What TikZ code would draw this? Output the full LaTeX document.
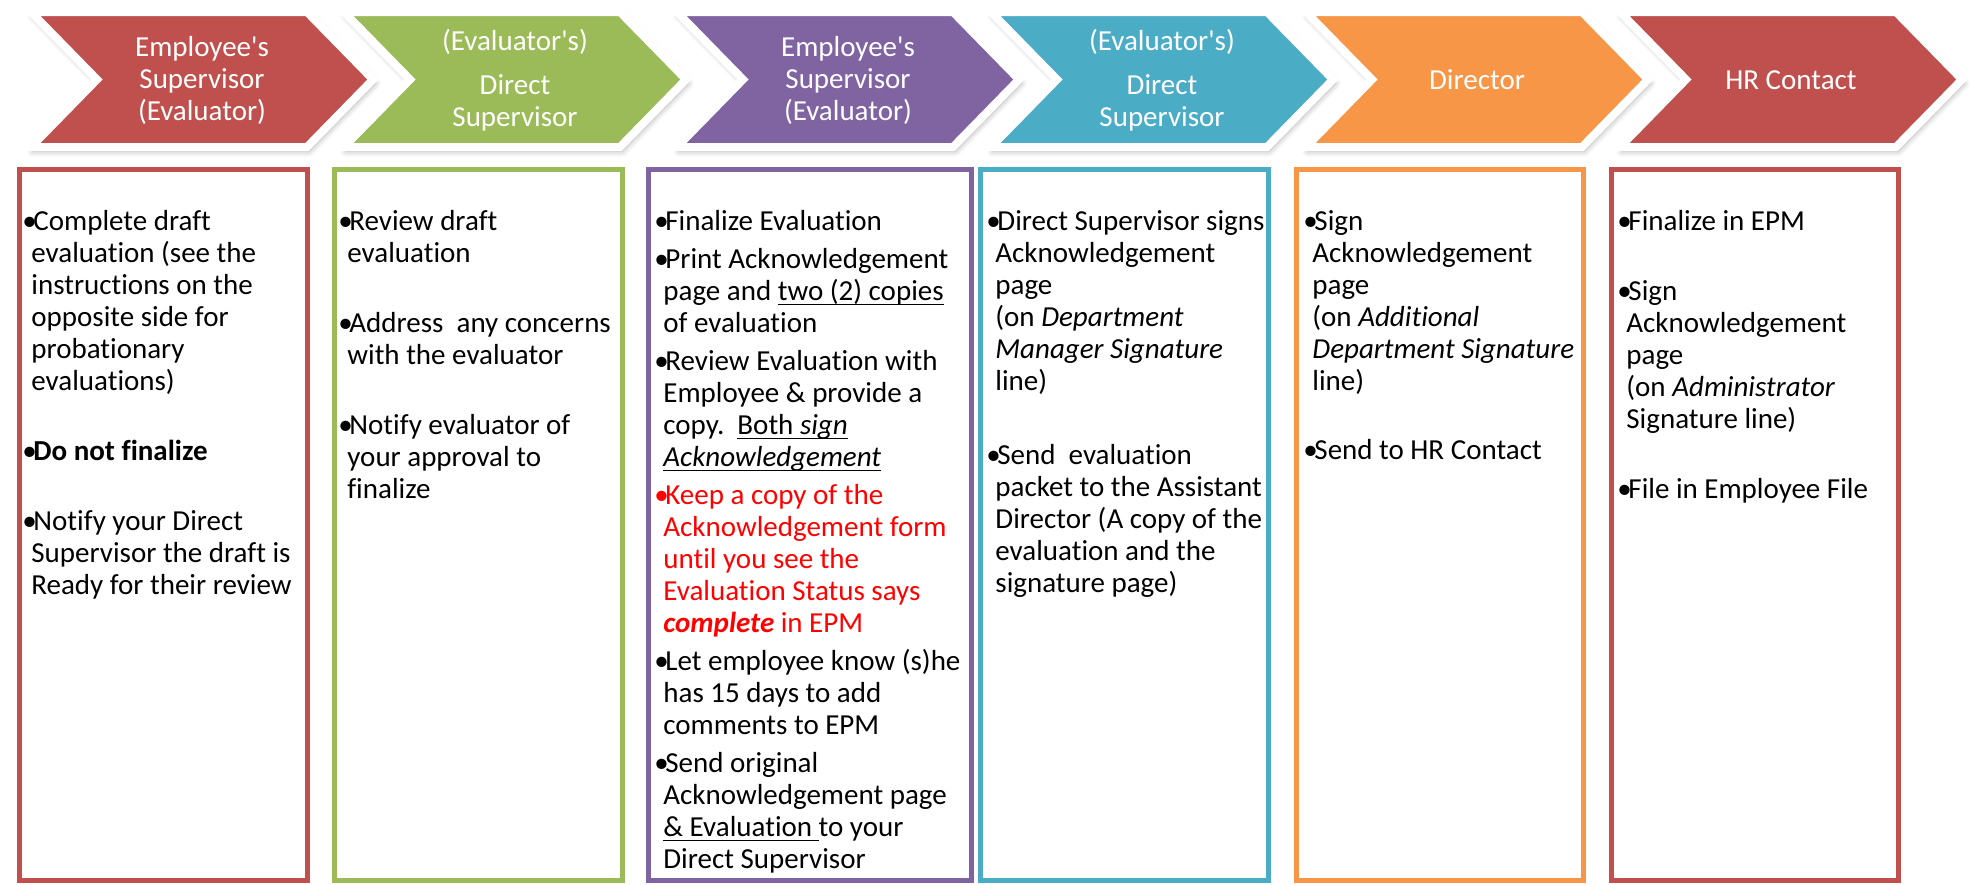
\documentclass[tikz,border=0pt]{standalone}
\usepackage{fontspec}
\setmainfont{Carlito}[Ligatures=NoCommon]
\usetikzlibrary{shadows.blur}

\definecolor{stepRed}{HTML}{C0504D}
\definecolor{stepGreen}{HTML}{9BBB59}
\definecolor{stepPurple}{HTML}{8064A2}
\definecolor{stepBlue}{HTML}{4BACC6}
\definecolor{stepOrange}{HTML}{F79646}

%% bullet, hanging indent and underline for the lists
\newcommand{\bul}{\makebox[5.5pt][l]{\textbullet}}
\newcommand{\ind}{\hspace*{4.5pt}}
\newcommand{\uln}[1]{\setbox0\hbox{#1}\rlap{\rule[-2pt]{\wd0}{0.6pt}}\box0}

\begin{document}
\begin{tikzpicture}
[x=0.5pt,y=-0.5pt,
  chevronDecorate/.style={fill=#1,draw=white,line width=4pt,
    blur shadow={shadow xshift=1pt,shadow yshift=-2pt,
      shadow blur radius=3pt,shadow opacity=35}},
  headDecorate/.style={text=white,align=center,inner sep=0pt,
    font=\fontsize{14.5}{16}\selectfont},
  boxDecorate/.style={draw=#1,line width=2.5pt},
  listDecorate/.style={anchor=north west,inner sep=0pt,align=left,
    font=\fontsize{14.5}{16}\selectfont}]
\useasboundingbox (0,0) rectangle (1974,884);

%% chevrons with the role names
\foreach \name/\x/\col/\txt in {
  evalHead/31/stepRed/{Employee\textquotesingle s\\Supervisor\\(Evaluator)},
  dirHead/344/stepGreen/{(Evaluator\textquotesingle s)\\[6pt]Direct\\Supervisor},
  finHead/677/stepPurple/{Employee\textquotesingle s\\Supervisor\\(Evaluator)},
  signHead/991/stepBlue/{(Evaluator\textquotesingle s)\\[6pt]Direct\\Supervisor},
  directorHead/1306/stepOrange/{Director},
  hrHead/1620/stepRed/{HR Contact}}
{
  \path[chevronDecorate=\col] (\x,12) -- ++(276,0) -- ++(66,67.5)
    -- ++(-66,67.5) -- ++(-276,0) -- ++(66,-67.5) -- cycle;
  \node (\name) [headDecorate] at (\x+171,80) {\txt};
}

%% frames below the chevrons
\foreach \l/\r/\col in {
  19.5/307.5/stepRed, 334.5/622.5/stepGreen, 648.5/971.5/stepPurple,
  980.5/1268.5/stepBlue, 1296.5/1583.5/stepOrange, 1611.5/1898.5/stepRed}
{
  \draw[boxDecorate=\col] (\l,169.5) rectangle (\r,880.5);
}

%% task lists
\node (evalList) [listDecorate] at (22,208) {\strut
  \bul Complete draft\\
  \ind evaluation (see the\\
  \ind instructions on the\\
  \ind opposite side for\\
  \ind probationary\\
  \ind evaluations)\\[19pt]
  \bul\textbf{Do not finalize}\\[19pt]
  \bul Notify your Direct\\
  \ind Supervisor the draft is\\
  \ind Ready for their review};

\node (dirList) [listDecorate] at (338,208) {\strut
  \bul Review draft\\
  \ind evaluation\\[19pt]
  \bul Address\ \ any concerns\\
  \ind with the evaluator\\[19pt]
  \bul Notify evaluator of\\
  \ind your approval to\\
  \ind finalize};

\node (finList) [listDecorate] at (654,208) {\strut
  \bul Finalize Evaluation\\[3pt]
  \bul Print Acknowledgement\\
  \ind page and \uln{two (2) copies}\\
  \ind of evaluation\\[3pt]
  \bul Review Evaluation with\\
  \ind Employee \& provide a\\
  \ind copy.\ \ \uln{Both \textit{sign}}\\
  \ind \uln{\textit{Acknowledgement}}\\[3pt]
  \color{red}\bul Keep a copy of the\\
  \color{red}\ind Acknowledgement form\\
  \color{red}\ind until you see the\\
  \color{red}\ind Evaluation Status says\\
  \color{red}\ind \textbf{\textit{complete}} in EPM\\[3pt]
  \bul Let employee know (s)he\\
  \ind has 15 days to add\\
  \ind comments to EPM\\[3pt]
  \bul Send original\\
  \ind Acknowledgement page\\
  \ind \uln{\& Evaluation\ }to your\\
  \ind Direct Supervisor};

\node (signList) [listDecorate] at (986,208) {\strut
  \bul Direct Supervisor signs\\
  \ind Acknowledgement\\
  \ind page\\
  \ind (on \textit{Department}\\
  \ind \textit{Manager Signature}\\
  \ind line)\\[21pt]
  \bul Send\ \ evaluation\\
  \ind packet to the Assistant\\
  \ind Director (A copy of the\\
  \ind evaluation and the\\
  \ind signature page)};

\node (directorList) [listDecorate] at (1303,208) {\strut
  \bul Sign\\
  \ind Acknowledgement\\
  \ind page\\
  \ind (on \textit{Additional}\\
  \ind \textit{Department Signature}\\
  \ind line)\\[18.5pt]
  \bul Send to HR Contact};

\node (hrList) [listDecorate] at (1617,208) {\strut
  \bul Finalize in EPM\\[19pt]
  \bul Sign\\
  \ind Acknowledgement\\
  \ind page\\
  \ind (on \textit{Administrator}\\
  \ind Signature line)\\[19pt]
  \bul File in Employee File};
\end{tikzpicture}
\end{document}
